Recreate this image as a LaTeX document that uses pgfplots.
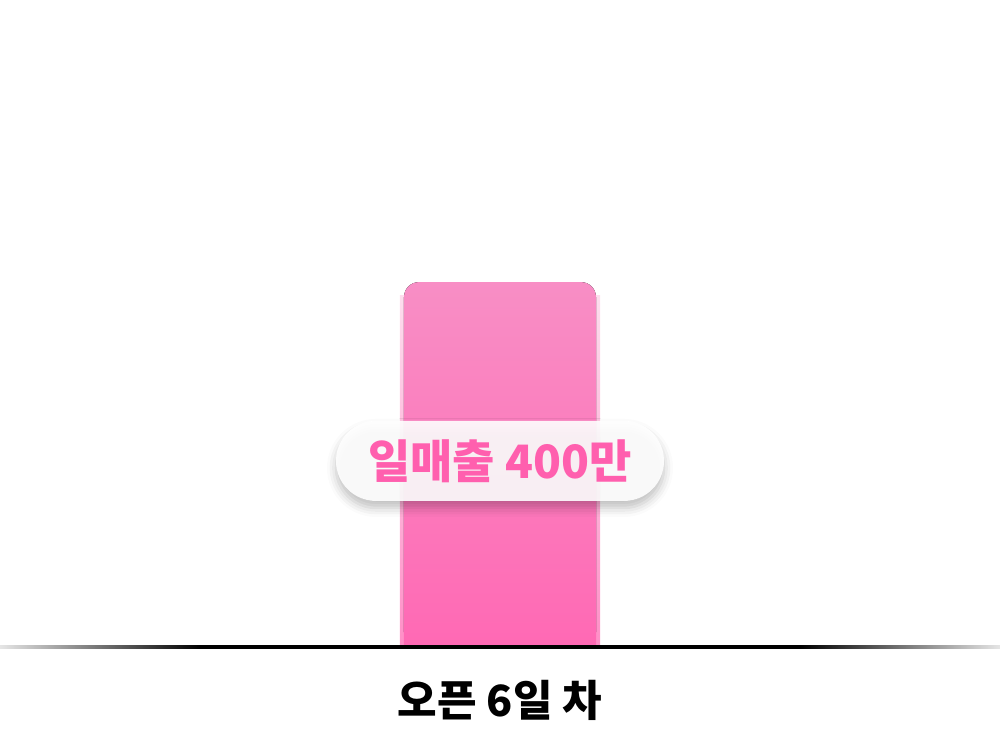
\documentclass[border=0pt]{standalone}
\usepackage{fontspec}
\usepackage{pgfplots}
\pgfplotsset{compat=1.18}
\usetikzlibrary{shadows.blur}
\newfontfamily\kr{Noto Sans CJK KR}
\definecolor{bartop}{HTML}{F88EC5}
\definecolor{barbot}{HTML}{FF69B4}
\definecolor{pinktext}{HTML}{FF5FAE}
\pgfdeclarehorizontalshading{baseline}{100bp}{color(0bp)=(black!5); color(25bp)=(black!10); color(35bp)=(black); color(65bp)=(black); color(75bp)=(black!10); color(100bp)=(black!5)}
\begin{document}
\begin{tikzpicture}
\begin{axis}[
  scale only axis, width=1000pt, height=647pt,
  xmin=-2.5, xmax=2.5, ymin=0, ymax=709,
  axis line style={draw=none},
  ytick=\empty,
  xtick={0}, xticklabels={오픈 6일 차},
  major tick length=0pt,
  xticklabel style={font=\kr\bfseries\fontsize{43}{47}\selectfont, anchor=center, yshift=-53pt},
  clip=true,
]
% soft glow behind the bar
\addplot[ybar, bar shift=0pt, bar width=200pt, fill, top color=bartop!30!white, bottom color=barbot!75!white, draw=none] coordinates {(0,385)};
% the bar
\addplot[ybar, bar shift=0pt, bar width=192pt, fill, top color=bartop, bottom color=barbot, draw=none, rounded corners=15pt] coordinates {(0,400)};
% square off the foot of the bar
\addplot[ybar, bar shift=0pt, bar width=192pt, fill, top color=bartop!5!barbot, bottom color=barbot, draw=none] coordinates {(0,20)};
\node[fill=white, fill opacity=0.9, text opacity=1, rounded corners=40pt, minimum width=328pt, minimum height=80pt, inner sep=0pt,
  blur shadow={shadow xshift=0pt, shadow yshift=-7pt, shadow blur radius=9pt, shadow opacity=28},
  text=pinktext, font=\kr\bfseries\fontsize{46}{50}\selectfont] at (axis cs:0,204) {일매출 400만};
\coordinate (bl) at (rel axis cs:0,0);
\coordinate (tr) at (rel axis cs:1,1);
\end{axis}
\fill[shading=baseline] ([yshift=1.6pt]bl) rectangle ([xshift=1000pt,yshift=-1.6pt]bl);
\path ([yshift=-83pt]bl) rectangle (tr);
\end{tikzpicture}
\end{document}
